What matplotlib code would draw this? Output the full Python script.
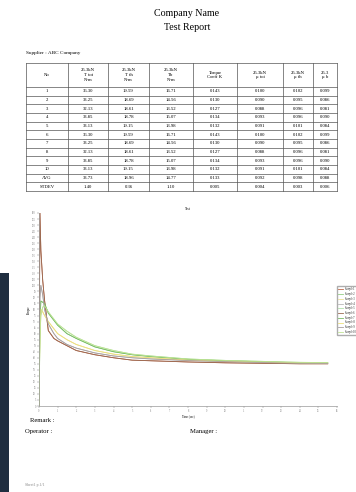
import matplotlib
matplotlib.use("Agg")
from matplotlib import pyplot as plt
from matplotlib.patches import Rectangle

plt.rcParams["font.family"] = ["Liberation Serif", "DejaVu Serif"]

# table data
headers = ["No", "25.3kN\nT tot\nN-m", "25.3kN\nT th\nN-m", "25.3kN\nTb\nN-m",
           "Torque\nCoeff K", "25.3kN\n\u03bc tot", "25.3kN\n\u03bc th", "25.3\n\u03bc b"]
row_names = ["1", "2", "3", "4", "5", "6", "7", "8", "9", "10", "AVG", "STDEV"]
t_tot = ["36.30", "33.25", "32.13", "33.85", "33.13", "36.30", "33.25", "32.13", "33.85", "33.13", "33.73", "1.40"]
t_th = ["19.59", "18.69", "18.61", "18.78", "19.15", "19.59", "18.69", "18.61", "18.78", "19.15", "18.96", "0.36"]
t_b = ["16.71", "14.56", "13.52", "15.07", "13.98", "16.71", "14.56", "13.52", "15.07", "13.98", "14.77", "1.10"]
coeff_k = ["0.143", "0.130", "0.127", "0.134", "0.132", "0.143", "0.130", "0.127", "0.134", "0.132", "0.133", "0.005"]
mu_tot = ["0.100", "0.090", "0.088", "0.093", "0.091", "0.100", "0.090", "0.088", "0.093", "0.091", "0.092", "0.004"]
mu_th = ["0.102", "0.095", "0.096", "0.096", "0.101", "0.102", "0.095", "0.096", "0.096", "0.101", "0.098", "0.003"]
mu_b = ["0.099", "0.086", "0.081", "0.090", "0.084", "0.099", "0.086", "0.081", "0.090", "0.084", "0.088", "0.006"]

# chart data (torque vs time), samples 6-10 repeat samples 1-5
time_s = [0, 0.05, 0.1, 0.2, 0.3, 0.5, 0.8, 1.0, 1.5, 2, 3, 4, 5, 6, 8, 10, 12, 14, 15.5]
curve_a = [0, 160, 129, 104, 87.5, 62.5, 56, 54, 50, 46, 42.5, 40, 38, 37.5, 36.5, 35.8, 35.4, 35, 35]
curve_b = [0, 70, 87, 86, 85, 77, 71, 67, 60, 56, 49, 45, 42.5, 41, 38.7, 37.5, 36.7, 35.8, 35.8]
curve_c = [0, 60, 80, 78, 75, 70, 64, 60, 55, 51, 46, 43, 41, 40, 38, 37, 36.3, 35.8, 35.5]
curve_d = [0, 90, 100, 92, 80, 68, 60, 56, 51, 48, 44, 41.5, 40, 39, 37.7, 36.8, 36, 35.5, 35.3]
curve_e = [0, 55, 75, 82, 83, 78, 72, 68, 62, 57, 50, 46, 43, 41.5, 39, 37.8, 37, 36.2, 36]
curves = [curve_a, curve_b, curve_c, curve_d, curve_e]
sample_names = ["Sample 1", "Sample 2", "Sample 3", "Sample 4", "Sample 5",
                "Sample 6", "Sample 7", "Sample 8", "Sample 9", "Sample 10"]
colors = ["#c0684a", "#94cf84", "#ebe096", "#b8b8b8", "#b0e0a8",
          "#9a6a52", "#78bc64", "#ece07c", "#a8a0a0", "#c0e494"]

W, H = 356, 492
fig = plt.figure(figsize=(W / 100, H / 100), dpi=100)

# page layer in pixel coords
page = fig.add_axes([0, 0, 1, 1])
page.set_xlim(0, W)
page.set_ylim(H, 0)
page.axis("off")
page.add_patch(Rectangle((0, 273), 9, H - 273, color="#1f2e40", lw=0))

page.text(187, 13, "Company Name", ha="center", va="center", fontsize=7.2)
page.text(187, 27, "Test Report", ha="center", va="center", fontsize=7.2)
page.text(26, 53, "Supplier : ABC Company", ha="left", va="center", fontsize=3.8)

col_x = [26, 68, 108, 149, 193, 237, 283, 313, 337]
head_top, head_bot = 63, 87
row_h = (191 - head_bot) / len(row_names)
line_kw = dict(color="#555555", lw=0.5)
for x in col_x:
    page.plot([x, x], [head_top, 191], **line_kw)
page.plot([col_x[0], col_x[-1]], [head_top, head_top], **line_kw)
page.plot([col_x[0], col_x[-1]], [head_bot, head_bot], **line_kw)
for i in range(len(row_names)):
    y = head_bot + (i + 1) * row_h
    page.plot([col_x[0], col_x[-1]], [y, y], **line_kw)

for j, h in enumerate(headers):
    cx = (col_x[j] + col_x[j + 1]) / 2
    page.text(cx, (head_top + head_bot) / 2, h, ha="center", va="center",
              fontsize=3.4, linespacing=1.3)

columns = [row_names, t_tot, t_th, t_b, coeff_k, mu_tot, mu_th, mu_b]
for j, col in enumerate(columns):
    cx = (col_x[j] + col_x[j + 1]) / 2
    for i, val in enumerate(col):
        cy = head_bot + (i + 0.5) * row_h
        page.text(cx, cy, val, ha="center", va="center", fontsize=3.4)

page.text(30, 420, "Remark :", ha="left", va="center", fontsize=4.8)
page.text(25, 432, "Operator :", ha="left", va="center", fontsize=4.8)
page.text(190, 432, "Manager :", ha="left", va="center", fontsize=4.8)
page.text(25, 485, "Sheet1 p.1/1", ha="left", va="center", fontsize=2.8, color="#888888")

# chart
ax = fig.add_axes([39 / W, 1 - 406 / H, 298 / W, 193 / H])
for k in range(10):
    ax.plot(time_s, curves[k % 5], color=colors[k], lw=0.6, label=sample_names[k])
ax.set_xlim(0, 16)
ax.set_ylim(0, 160)
ax.set_xticks(range(0, 17))
ax.set_yticks(range(0, 161, 5))
ax.tick_params(labelsize=1.8, length=1.2, width=0.3, pad=1, colors="#777777")
ax.spines["top"].set_visible(False)
ax.spines["right"].set_visible(False)
for s in ["left", "bottom"]:
    ax.spines[s].set_color("#999999")
    ax.spines[s].set_linewidth(0.5)
ax.set_title("Test", fontsize=2.5, pad=2)
ax.set_xlabel("Time (sec)", fontsize=2.2, labelpad=1)
ax.set_ylabel("Torque", fontsize=2.2, labelpad=1)
fig.legend(loc="upper left", bbox_to_anchor=(336 / W, 1 - 285 / H), fontsize=1.8,
           handlelength=2, frameon=True, borderpad=0.4, labelspacing=0.3,
           edgecolor="#999999", fancybox=False)

fig.savefig("out.png", dpi=100)
